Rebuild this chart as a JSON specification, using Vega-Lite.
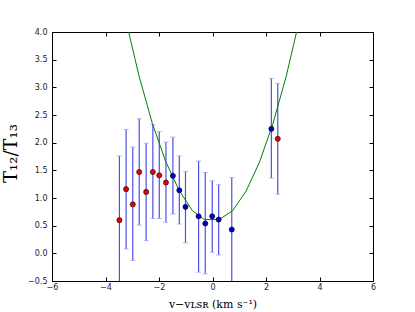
{
  "$schema": "https://vega.github.io/schema/vega-lite/v6.json",
  "width": 321,
  "height": 249,
  "autosize": {"type": "none"},
  "padding": {"left": 52, "top": 32, "right": 42, "bottom": 31},
  "background": "white",
  "config": {
    "view": {"stroke": "#000000", "strokeWidth": 1},
    "axis": {
      "grid": false,
      "domainColor": "#000000",
      "tickColor": "#000000",
      "labelFont": "DejaVu Sans",
      "labelFontSize": 8,
      "labelColor": "#222222",
      "titleFont": "DejaVu Serif",
      "titleFontWeight": "normal",
      "titleColor": "#000000"
    }
  },
  "datasets": {
    "pts": [
      {"x": -3.48, "y": 0.60, "lo": -0.56, "hi": 1.76, "grp": "red"},
      {"x": -3.23, "y": 1.16, "lo": 0.08, "hi": 2.24, "grp": "red"},
      {"x": -2.98, "y": 0.885, "lo": -0.13, "hi": 1.92, "grp": "red"},
      {"x": -2.74, "y": 1.47, "lo": 0.51, "hi": 2.43, "grp": "red"},
      {"x": -2.48, "y": 1.11, "lo": 0.23, "hi": 1.99, "grp": "red"},
      {"x": -2.23, "y": 1.47, "lo": 0.63, "hi": 2.33, "grp": "red"},
      {"x": -1.99, "y": 1.41, "lo": 0.63, "hi": 2.20, "grp": "red"},
      {"x": -1.74, "y": 1.28, "lo": 0.56, "hi": 2.01, "grp": "red"},
      {"x": -1.48, "y": 1.40, "lo": 0.71, "hi": 2.10, "grp": "blue"},
      {"x": -1.24, "y": 1.14, "lo": 0.53, "hi": 1.76, "grp": "blue"},
      {"x": -1.01, "y": 0.84, "lo": 0.19, "hi": 1.48, "grp": "blue"},
      {"x": -0.52, "y": 0.67, "lo": -0.34, "hi": 1.67, "grp": "blue"},
      {"x": -0.27, "y": 0.54, "lo": -0.37, "hi": 1.46, "grp": "blue"},
      {"x": -0.01, "y": 0.67, "lo": 0.02, "hi": 1.31, "grp": "blue"},
      {"x": 0.23, "y": 0.61, "lo": -0.03, "hi": 1.24, "grp": "blue"},
      {"x": 0.72, "y": 0.43, "lo": -0.55, "hi": 1.37, "grp": "blue"},
      {"x": 2.20, "y": 2.25, "lo": 1.36, "hi": 3.16, "grp": "blue"},
      {"x": 2.44, "y": 2.07, "lo": 1.07, "hi": 3.07, "grp": "red"}
    ],
    "fit": [
      {"x": -3.25, "y": 4.24},
      {"x": -2.75, "y": 3.21},
      {"x": -2.25, "y": 2.35},
      {"x": -1.75, "y": 1.66},
      {"x": -1.25, "y": 1.14},
      {"x": -0.75, "y": 0.77},
      {"x": -0.3, "y": 0.61},
      {"x": 0.25, "y": 0.61},
      {"x": 0.75, "y": 0.77},
      {"x": 1.25, "y": 1.12},
      {"x": 1.75, "y": 1.64},
      {"x": 2.25, "y": 2.33},
      {"x": 2.75, "y": 3.19},
      {"x": 3.25, "y": 4.22}
    ]
  },
  "resolve": {"axis": {"x": "independent", "y": "independent"}},
  "layer": [
    {
      "layer": [
        {
          "data": {"name": "pts"},
          "mark": {"type": "rule", "color": "#4f4fe6", "strokeWidth": 1.2, "clip": true},
          "encoding": {
            "x": {"field": "x", "type": "quantitative",
                  "scale": {"domain": [-6, 6], "nice": false, "zero": false},
                  "axis": {"orient": "bottom", "tickCount": 6, "tickSize": -4, "labelPadding": 6, "labelOverlap": false, "labelFlush": false,
                           "title": "v−vʟꜱʀ (km s⁻¹)", "titleFontSize": 11, "titlePadding": 7}},
            "y": {"field": "lo", "type": "quantitative",
                  "scale": {"domain": [-0.5, 4], "nice": false, "zero": false},
                  "axis": {"orient": "left", "tickCount": 9, "format": ".1f", "tickSize": -4, "labelPadding": 9, "labelOverlap": false, "labelFlush": false,
                           "title": "T₁₂/T₁₃", "titleFontSize": 18, "titlePadding": 7, "titleY": 121}},
            "y2": {"field": "hi"}
          }
        },
        {
          "data": {"name": "pts"},
          "mark": {"type": "tick", "orient": "horizontal", "color": "#9a9af0", "size": 5, "thickness": 1, "clip": true},
          "encoding": {
            "x": {"field": "x", "type": "quantitative"},
            "y": {"field": "hi", "type": "quantitative"}
          }
        },
        {
          "data": {"name": "pts"},
          "mark": {"type": "tick", "orient": "horizontal", "color": "#9a9af0", "size": 5, "thickness": 1, "clip": true},
          "encoding": {
            "x": {"field": "x", "type": "quantitative"},
            "y": {"field": "lo", "type": "quantitative"}
          }
        },
        {
          "data": {"name": "fit"},
          "mark": {"type": "line", "color": "#008000", "strokeWidth": 1, "clip": true},
          "encoding": {
            "x": {"field": "x", "type": "quantitative"},
            "y": {"field": "y", "type": "quantitative"}
          }
        },
        {
          "data": {"name": "pts"},
          "mark": {"type": "point", "filled": true, "shape": "circle", "size": 26, "opacity": 1, "strokeWidth": 0.6, "stroke": "#000000", "clip": true},
          "encoding": {
            "x": {"field": "x", "type": "quantitative"},
            "y": {"field": "y", "type": "quantitative"},
            "color": {"field": "grp", "type": "nominal",
                      "scale": {"domain": ["red", "blue"], "range": ["#ee0000", "#0000cc"]},
                      "legend": null}
          }
        }
      ]
    },
    {
      "data": {"name": "pts"},
      "mark": {"type": "point", "opacity": 0},
      "encoding": {
        "x": {"field": "x", "type": "quantitative",
              "axis": {"orient": "top", "tickCount": 6, "tickSize": -4, "labels": false, "domain": false, "title": null}},
        "y": {"field": "y", "type": "quantitative",
              "axis": {"orient": "right", "tickCount": 9, "tickSize": -4, "labels": false, "domain": false, "title": null}}
      }
    }
  ]
}
